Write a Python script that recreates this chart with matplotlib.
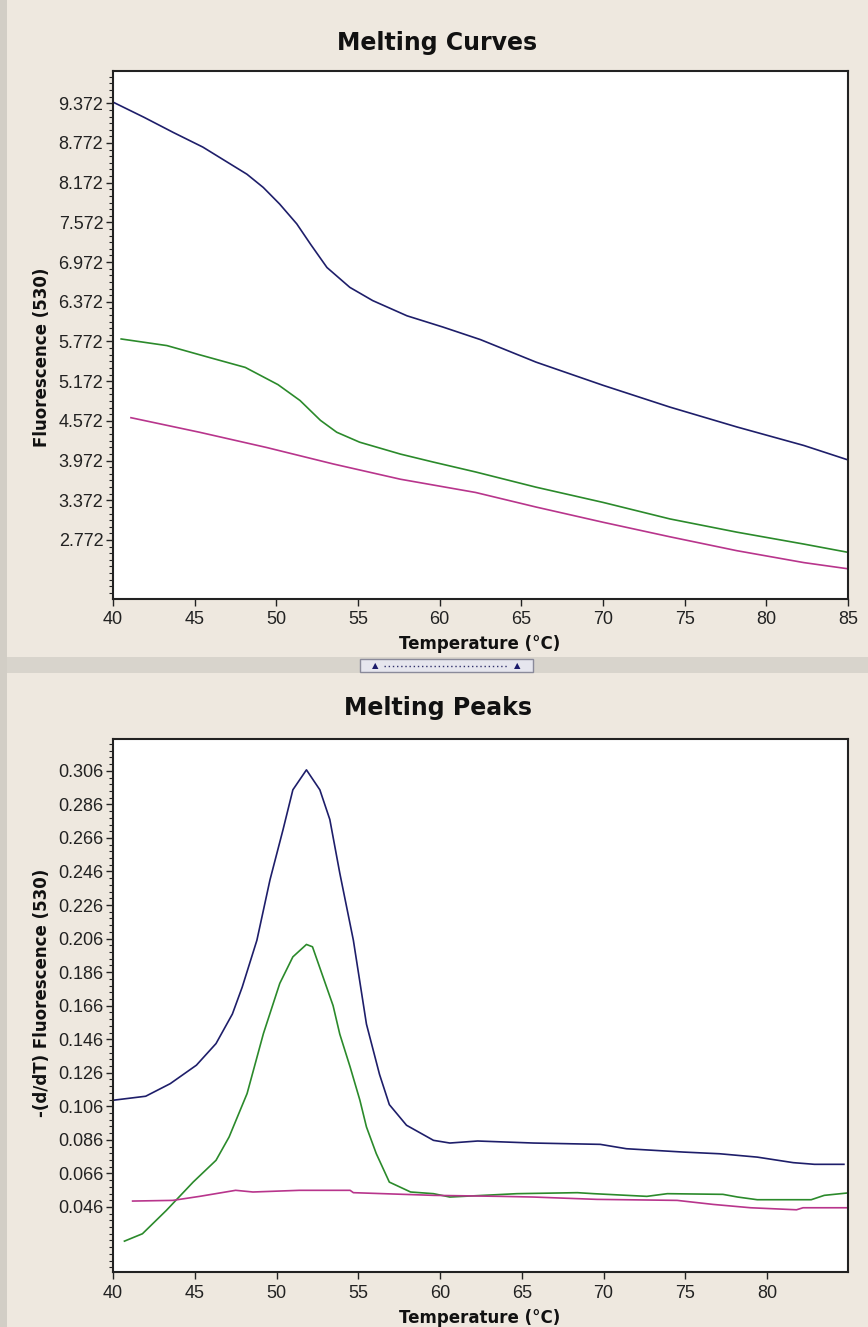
import matplotlib
matplotlib.use("Agg")
import matplotlib.pyplot as plt
from matplotlib.patches import Rectangle
from matplotlib.lines import Line2D
from matplotlib.ticker import MultipleLocator

# ---- melting curves (top) ----
curve_blue_t = [40.0, 41.9, 43.7, 45.5, 48.2, 49.2, 50.2, 51.25, 52.1, 53.1, 54.5,
                55.9, 58.0, 60.2, 62.5, 65.9, 70.0, 74.1, 78.2, 82.3, 84.9]
curve_blue_f = [9.39, 9.16, 8.93, 8.71, 8.30, 8.10, 7.85, 7.55, 7.24, 6.89, 6.59,
                6.39, 6.16, 5.99, 5.80, 5.46, 5.11, 4.78, 4.48, 4.20, 3.99]

curve_green_t = [40.5, 43.3, 45.9, 48.1, 50.1, 51.45, 52.7, 53.7, 55.1, 57.6, 59.6,
                 62.2, 65.9, 70.0, 74.1, 78.2, 82.3, 84.9]
curve_green_f = [5.81, 5.71, 5.53, 5.38, 5.12, 4.88, 4.58, 4.40, 4.25, 4.07, 3.95,
                 3.80, 3.57, 3.34, 3.09, 2.89, 2.71, 2.59]

curve_pink_t = [41.1, 45.3, 49.4, 53.5, 57.6, 62.2, 65.9, 70.0, 74.1, 78.2, 82.3, 84.9]
curve_pink_f = [4.62, 4.40, 4.17, 3.92, 3.69, 3.49, 3.27, 3.04, 2.82, 2.61, 2.43, 2.34]

# ---- melting peaks (bottom) ----
peak_blue_t = [40.0, 42.0, 43.5, 45.1, 46.3, 47.3, 47.9, 48.8, 49.6, 50.4, 51.0, 51.83,
               52.65, 53.26, 53.87, 54.7, 55.5, 56.3, 56.9, 57.95, 59.6, 60.6, 62.3,
               65.7, 69.8, 71.4, 74.9, 77.1, 79.4, 81.6, 82.9, 84.7]
peak_blue_d = [0.1096, 0.112, 0.1195, 0.1305, 0.1434, 0.161, 0.177, 0.205, 0.241, 0.271,
               0.2947, 0.3066, 0.2947, 0.277, 0.245, 0.205, 0.155, 0.125, 0.107, 0.0947,
               0.0857, 0.0841, 0.0853, 0.0841, 0.0833, 0.0807, 0.0787, 0.0777, 0.0757,
               0.0724, 0.0714, 0.0714]

peak_green_t = [40.7, 41.8, 43.26, 44.9, 46.3, 47.1, 48.2, 49.2, 50.2,
                51.0, 51.83, 52.2, 53.46, 53.87, 54.5, 55.1, 55.5, 56.1, 56.9, 58.2,
                59.6, 60.6, 64.7, 68.4, 69.4, 72.65, 73.9, 77.3, 78.2, 79.4, 82.7, 83.5, 84.9]
peak_green_d = [0.0256, 0.030, 0.0439, 0.0608, 0.0738, 0.0877, 0.1136,
                0.1494, 0.1793, 0.1951, 0.2025, 0.2011, 0.166, 0.149, 0.1295,
                0.1096, 0.0937, 0.0778, 0.0608, 0.0549, 0.0539, 0.0519, 0.0539, 0.0545,
                0.0539, 0.0523, 0.0539, 0.0535, 0.0519, 0.0503, 0.0503, 0.0529, 0.0543]

peak_pink_t = [41.2, 43.66, 45.3, 47.5, 48.56, 51.4, 54.5, 54.7, 59.6, 63.7, 65.7, 69.6,
               74.5, 76.7, 79.0, 81.8, 82.2, 84.9]
peak_pink_d = [0.0495, 0.0499, 0.0523, 0.0559, 0.0549, 0.0559, 0.0559, 0.0545, 0.0529,
               0.0523, 0.0519, 0.0505, 0.0499, 0.0475, 0.0455, 0.0443, 0.0455, 0.0455]

# tick labels
top_yticks = ["2.772", "3.372", "3.972", "4.572", "5.172", "5.772", "6.372",
              "6.972", "7.572", "8.172", "8.772", "9.372"]
bot_yticks = ["0.046", "0.066", "0.086", "0.106", "0.126", "0.146", "0.166",
              "0.186", "0.206", "0.226", "0.246", "0.266", "0.286", "0.306"]
top_xticks = [40, 45, 50, 55, 60, 65, 70, 75, 80, 85]
bot_xticks = [40, 45, 50, 55, 60, 65, 70, 75, 80]

BG = "#EEE8DF"
NAVY = "#1e1e6a"
GREEN = "#2b8a2b"
PINK = "#b8358c"
W, H = 868, 1327


def box(x0, y0, x1, y1):
    # pixel box (top-left origin) -> figure fraction rect
    return [x0 / W, 1 - y1 / H, (x1 - x0) / W, (y1 - y0) / H]


fig = plt.figure(figsize=(W / 100, H / 100), dpi=100, facecolor=BG)

# window chrome: left strip and the splitter bar
fig.add_artist(Rectangle((0, 0), 7 / W, 1, transform=fig.transFigure,
                         facecolor="#D2CEC6", edgecolor="none"))
fig.add_artist(Rectangle((7 / W, 1 - 673 / H), 1, 16 / H, transform=fig.transFigure,
                         facecolor="#D8D4CC", edgecolor="none"))
fig.add_artist(Rectangle((360 / W, 1 - 672 / H), 173 / W, 13 / H, transform=fig.transFigure,
                         facecolor="#E6E6EE", edgecolor="#8A8A9A", linewidth=1))
fig.add_artist(Line2D([384 / W, 508 / W], [1 - 665.5 / H] * 2, transform=fig.transFigure,
                      color="#30306a", linestyle=(0, (1, 2)), linewidth=1))
for bx in (375, 517):
    fig.text(bx / W, 1 - 666 / H, "\u25b2", fontsize=6, color="#1a1a6a",
             ha="center", va="center")


def style(ax, xlim, ylim, xticks, ylabels, minor_base, minor_off):
    ax.set_facecolor("white")
    for s in ax.spines.values():
        s.set_color("#222222")
        s.set_linewidth(1.5)
    ax.set_xlim(*xlim)
    ax.set_ylim(*ylim)
    ax.set_xticks(xticks)
    ax.set_xticklabels([str(t) for t in xticks])
    ax.set_yticks([float(v) for v in ylabels])
    ax.set_yticklabels(ylabels)
    ax.yaxis.set_minor_locator(MultipleLocator(minor_base, offset=minor_off))
    ax.tick_params(which="major", direction="out", length=5, width=1,
                   labelsize=13, colors="#222222")
    ax.tick_params(axis="x", pad=4)
    ax.tick_params(axis="y", pad=2)
    ax.tick_params(which="minor", direction="out", length=3, width=0.8,
                   colors="#222222")
    for lab in ax.get_xticklabels() + ax.get_yticklabels():
        lab.set_fontfamily("Liberation Sans")


# top panel
ax1 = fig.add_axes(box(113, 71, 848, 599))
ax1.plot(curve_blue_t, curve_blue_f, color=NAVY, lw=1.2)
ax1.plot(curve_green_t, curve_green_f, color=GREEN, lw=1.2)
ax1.plot(curve_pink_t, curve_pink_f, color=PINK, lw=1.2)
style(ax1, (40, 85), (1.88, 9.86), top_xticks, top_yticks, 0.1, 0.072)

# bottom panel
ax2 = fig.add_axes(box(113, 739, 848, 1272))
ax2.plot(peak_blue_t, peak_blue_d, color=NAVY, lw=1.2)
ax2.plot(peak_green_t, peak_green_d, color=GREEN, lw=1.2)
ax2.plot(peak_pink_t, peak_pink_d, color=PINK, lw=1.2)
style(ax2, (40, 84.95), (0.0072, 0.325), bot_xticks, bot_yticks, 0.004, 0.002)

# titles and axis labels
tkw = dict(fontsize=17, fontweight="bold", ha="center", va="center",
           family="DejaVu Sans", color="#111111")
fig.text(437 / W, 1 - 43 / H, "Melting Curves", **tkw)
fig.text(438 / W, 1 - 708 / H, "Melting Peaks", **tkw)

lkw = dict(fontsize=12, fontweight="bold", ha="center", va="center",
           family="DejaVu Sans", color="#111111")
fig.text(480 / W, 1 - 644 / H, "Temperature (\u00b0C)", **lkw)
fig.text(480 / W, 1 - 1318 / H, "Temperature (\u00b0C)", **lkw)
fig.text(42 / W, 1 - 357 / H, "Fluorescence (530)", rotation=90, **lkw)
fig.text(42 / W, 1 - 993 / H, "-(d/dT) Fluorescence (530)", rotation=90, **lkw)

fig.savefig("out.png", dpi=100, facecolor=BG)
